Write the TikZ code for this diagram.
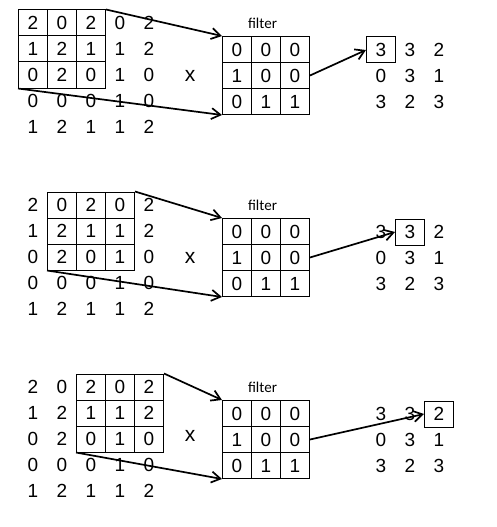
\documentclass[tikz,border=0pt]{standalone}
\usepackage{fontspec}
\setmainfont{Liberation Sans}
\newfontfamily\calfont{Carlito}
\usetikzlibrary{arrows.meta}
\begin{document}
\begin{tikzpicture}[x=1pt,y=-1pt,
  num/.style={font=\fontsize{19}{19}\selectfont, inner sep=0pt, anchor=center},
  times/.style={font=\fontsize{21}{21}\selectfont, inner sep=0pt, anchor=center},
  box/.style={draw, line width=1pt, minimum width=29pt, minimum height=26pt, inner sep=0pt, font=\fontsize{19}{19}\selectfont},
  link/.style={line width=1.7pt, -{Straight Barb[length=9pt,width=11pt,line width=1.7pt]}},
  lbl/.style={font=\calfont\fontsize{15}{15}\selectfont, inner sep=0pt}]
\useasboundingbox (0,0) rectangle (496,527);
\foreach \p/\dy/\xy in {0/0/76.3,1/182/76,2/364/72.3} {
  \begin{scope}[yshift=-\dy pt]
    % input numbers
    \foreach \row [count=\r from 0] in {{2,0,2,0,2},{1,2,1,1,2},{0,2,0,1,0},{0,0,0,1,0},{1,2,1,1,2}} {
      \foreach \v [count=\c from 0] in \row {
        \node[num] (in\p-\r-\c) at ({33+29*\c},{23+26*\r}) {\v};
      }
    }
    % sliding window
    \foreach \r in {0,1,2} {
      \foreach \c in {0,1,2} {
        \node[box] (w\p-\r-\c) at ({33+29*(\c+\p)},{23+26*\r}) {};
      }
    }
    % filter
    \node[lbl] (fl\p) at (262.5,23) {filter};
    \foreach \row [count=\r from 0] in {{0,0,0},{1,0,0},{0,1,1}} {
      \foreach \v [count=\c from 0] in \row {
        \node[box] (f\p-\r-\c) at ({237+29*\c},{49.5+26*\r}) {\v};
      }
    }
    % times sign
    \node[times] (x\p) at (190,\xy) {x};
    % output
    \foreach \row [count=\r from 0] in {{3,3,2},{0,3,1},{3,2,3}} {
      \foreach \v [count=\c from 0] in \row {
        \node[num] (o\p-\r-\c) at ({381+29*\c},{50+26*\r}) {\v};
      }
    }
    \node[box] (ob\p) at ({381+29*\p},50) {};
    % connectors
    \draw[link] (w\p-0-2.north east) -- (f\p-0-0.north west);
    \draw[link] (w\p-2-0.south west) -- (f\p-2-0.south west);
    \draw[link] (f\p-1-2.east) -- (ob\p.west);
  \end{scope}
}
\end{tikzpicture}
\end{document}
